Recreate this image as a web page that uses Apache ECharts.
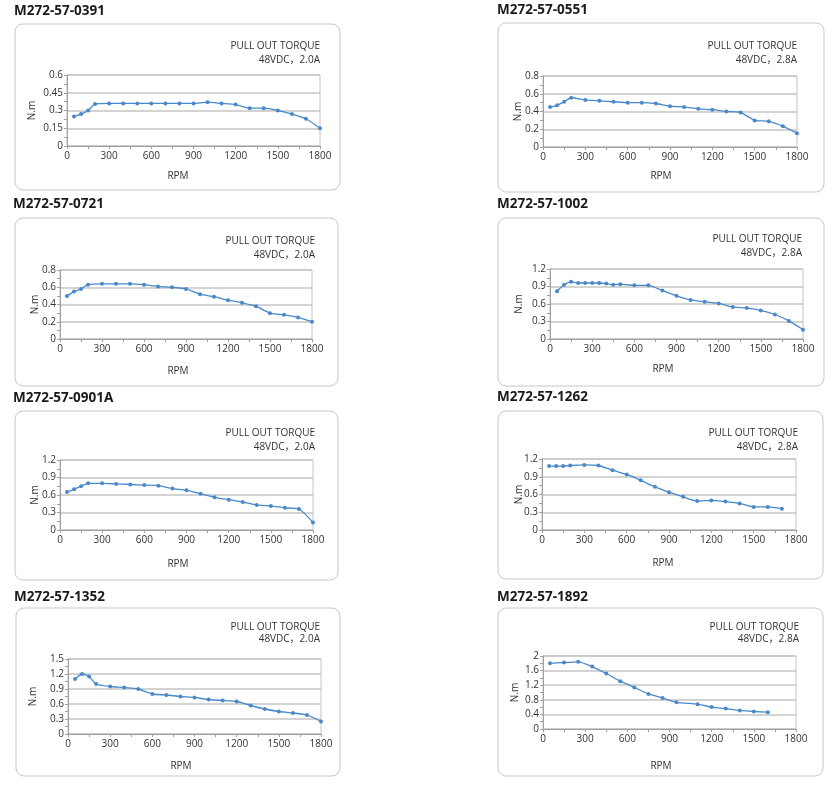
<!DOCTYPE html>
<html>
<head>
<meta charset="utf-8">
<script src="https://cdn.jsdelivr.net/npm/echarts@6/dist/echarts.min.js"></script>
<style>
  html, body { margin: 0; padding: 0; background: #fff; }
  #chart { width: 838px; height: 795px; }
</style>
</head>
<body>
<div id="chart"></div>
<script>
// speed points (RPM)
const rpmStd = [50, 100, 150, 200, 300, 400, 500, 600, 700, 800, 900, 1000, 1100, 1200, 1300, 1400, 1500, 1600, 1700, 1800]
const rpm1002 = [50, 100, 150, 200, 250, 300, 350, 400, 450, 500, 600, 700, 800, 900, 1000, 1100, 1200, 1300, 1400, 1500, 1600, 1700, 1800]
const rpm1262 = [50, 100, 150, 200, 300, 400, 500, 600, 700, 800, 900, 1000, 1100, 1200, 1300, 1400, 1500, 1600, 1700]
const rpm1892 = [50, 150, 250, 350, 450, 550, 650, 750, 850, 950, 1100, 1200, 1300, 1400, 1500, 1600]

// pull out torque (N.m)
const torque0391 = [0.25, 0.27, 0.30, 0.355, 0.36, 0.36, 0.36, 0.36, 0.36, 0.36, 0.36, 0.37, 0.36, 0.35, 0.32, 0.32, 0.30, 0.27, 0.23, 0.15]
const torque0551 = [0.45, 0.47, 0.51, 0.555, 0.53, 0.52, 0.51, 0.50, 0.50, 0.49, 0.46, 0.45, 0.43, 0.42, 0.40, 0.39, 0.30, 0.29, 0.235, 0.155]
const torque0721 = [0.50, 0.55, 0.58, 0.63, 0.64, 0.64, 0.64, 0.63, 0.61, 0.60, 0.58, 0.52, 0.49, 0.45, 0.42, 0.38, 0.30, 0.28, 0.25, 0.20]
const torque1002 = [0.82, 0.93, 0.98, 0.96, 0.96, 0.96, 0.96, 0.95, 0.93, 0.94, 0.92, 0.92, 0.83, 0.74, 0.67, 0.64, 0.61, 0.55, 0.53, 0.49, 0.42, 0.31, 0.16]
const torque0901A = [0.65, 0.70, 0.75, 0.80, 0.80, 0.79, 0.78, 0.77, 0.76, 0.71, 0.68, 0.62, 0.56, 0.52, 0.48, 0.43, 0.41, 0.38, 0.36, 0.13]
const torque1262 = [1.08, 1.08, 1.08, 1.09, 1.10, 1.09, 1.01, 0.94, 0.84, 0.73, 0.64, 0.56, 0.49, 0.50, 0.48, 0.45, 0.39, 0.39, 0.36]
const torque1352 = [1.10, 1.20, 1.15, 1.00, 0.95, 0.93, 0.90, 0.80, 0.78, 0.75, 0.73, 0.69, 0.67, 0.65, 0.57, 0.50, 0.45, 0.42, 0.38, 0.25]
const torque1892 = [1.80, 1.82, 1.84, 1.71, 1.52, 1.31, 1.14, 0.96, 0.85, 0.73, 0.68, 0.60, 0.56, 0.51, 0.48, 0.46]

// tick labels
const xTicks = [0, 300, 600, 900, 1200, 1500, 1800]
const yTicks0391 = [0, 0.15, 0.3, 0.45, 0.6]
const yTicks08 = [0, 0.2, 0.4, 0.6, 0.8]
const yTicks12 = [0, 0.3, 0.6, 0.9, 1.2]
const yTicks15 = [0, 0.3, 0.6, 0.9, 1.2, 1.5]
const yTicks20 = [0, 0.4, 0.8, 1.2, 1.6, 2]

// texts
const models = ['M272-57-0391', 'M272-57-0551', 'M272-57-0721', 'M272-57-1002', 'M272-57-0901A', 'M272-57-1262', 'M272-57-1352', 'M272-57-1892']
const ratings = ['48VDC，2.0A', '48VDC，2.8A', '48VDC，2.0A', '48VDC，2.8A', '48VDC，2.0A', '48VDC，2.8A', '48VDC，2.0A', '48VDC，2.8A']
const chartTitle = 'PULL OUT TORQUE'
const xName = 'RPM'
const yName = 'N.m'

const panels = [
  { rpm: rpmStd, torque: torque0391, yTicks: yTicks0391 },
  { rpm: rpmStd, torque: torque0551, yTicks: yTicks08 },
  { rpm: rpmStd, torque: torque0721, yTicks: yTicks08 },
  { rpm: rpm1002, torque: torque1002, yTicks: yTicks12 },
  { rpm: rpmStd, torque: torque0901A, yTicks: yTicks12 },
  { rpm: rpm1262, torque: torque1262, yTicks: yTicks12 },
  { rpm: rpmStd, torque: torque1352, yTicks: yTicks15 },
  { rpm: rpm1892, torque: torque1892, yTicks: yTicks20 }
]

// layout: box, plot grid, text anchors
const layout = [
  { box: [15, 24, 325, 166], title: [14, 11], grid: [67, 75, 253, 71], sub: [320, 46, 60], ny: 32, rpm: [178, 176] },
  { box: [498, 23, 326, 169], title: [497, 10], grid: [543, 76, 254, 71], sub: [797, 46, 60], ny: 518, rpm: [661, 176] },
  { box: [15, 218, 323, 168], title: [13, 204], grid: [60, 270, 252, 69], sub: [315, 241, 255], ny: 35, rpm: [178, 371] },
  { box: [498, 218, 326, 168], title: [497, 204], grid: [550, 269, 253, 70], sub: [802, 239, 253], ny: 519, rpm: [663, 369] },
  { box: [15, 411, 323, 169], title: [13, 398], grid: [60, 460, 253, 70], sub: [315, 433, 447], ny: 35, rpm: [178, 564] },
  { box: [498, 411, 325, 168], title: [497, 397], grid: [542, 459, 254, 71], sub: [798, 433, 447], ny: 519, rpm: [663, 563] },
  { box: [16, 608, 324, 168], title: [14, 597], grid: [68, 659, 253, 75], sub: [320, 627, 639], ny: 33, rpm: [181, 766] },
  { box: [498, 608, 325, 168], title: [497, 597], grid: [543, 656, 253, 73], sub: [799, 627, 639], ny: 515, rpm: [661, 766] }
]

const FONT = '"Open Sans", "Noto Sans CJK SC", sans-serif'
const LINE = '#4a89c9'
const AXIS = '#a0a0a0'
const TXT = '#333333'

const chart = echarts.init(document.getElementById('chart'), null, { renderer: 'canvas' })

const grid = []
const xAxis = []
const yAxis = []
const series = []
const graphic = []

panels.forEach((p, i) => {
  const l = layout[i]
  grid.push({
    left: l.grid[0], top: l.grid[1], width: l.grid[2], height: l.grid[3],
    show: true, borderColor: '#c4c4c4', borderWidth: 1, containLabel: false
  })
  xAxis.push({
    type: 'value', gridIndex: i,
    min: xTicks[0], max: xTicks[xTicks.length - 1], interval: xTicks[1] - xTicks[0],
    axisLine: { show: true, lineStyle: { color: AXIS, width: 1 } },
    axisTick: { show: true, length: 3, lineStyle: { color: AXIS } },
    minorTick: { show: true, splitNumber: 2, length: 3, lineStyle: { color: AXIS } },
    splitLine: { show: false },
    axisLabel: { color: TXT, fontSize: 10, fontFamily: FONT, margin: 5, formatter: v => String(v) }
  })
  const yt = p.yTicks
  yAxis.push({
    type: 'value', gridIndex: i,
    min: 0, max: yt[yt.length - 1], interval: yt[1] - yt[0],
    axisLine: { show: true, lineStyle: { color: AXIS, width: 1 } },
    axisTick: { show: true, length: 3, lineStyle: { color: AXIS } },
    minorTick: { show: true, splitNumber: 2, length: 3, lineStyle: { color: AXIS } },
    splitLine: { show: true, lineStyle: { color: '#c4c4c4', width: 1.5 } },
    axisLabel: { color: TXT, fontSize: 10, fontFamily: FONT, margin: 4 }
  })
  series.push({
    type: 'line', xAxisIndex: i, yAxisIndex: i,
    data: p.rpm.map((r, k) => [r, p.torque[k]]),
    symbol: 'circle', symbolSize: 4, smooth: 0.2,
    itemStyle: { color: LINE },
    lineStyle: { color: LINE, width: 1.3 },
    silent: true, animation: false
  })

  graphic.push({
    type: 'rect', silent: true,
    shape: { x: l.box[0], y: l.box[1], width: l.box[2], height: l.box[3], r: 8 },
    style: { fill: 'none', stroke: '#c8c8c8', lineWidth: 1 }
  })
  graphic.push({
    type: 'text', silent: true, x: l.title[0], y: l.title[1],
    style: { text: models[i], font: 'bold 13.5px ' + FONT, fill: '#1a1a1a', textAlign: 'left', textVerticalAlign: 'middle' }
  })
  graphic.push({
    type: 'text', silent: true, x: l.sub[0], y: l.sub[1],
    style: { text: chartTitle, font: '10px ' + FONT, fill: TXT, textAlign: 'right', textVerticalAlign: 'middle' }
  })
  graphic.push({
    type: 'text', silent: true, x: l.sub[0], y: l.sub[2],
    style: { text: ratings[i], font: '10px ' + FONT, fill: TXT, textAlign: 'right', textVerticalAlign: 'middle' }
  })
  graphic.push({
    type: 'text', silent: true, x: l.ny, y: l.grid[1] + l.grid[3] / 2, rotation: Math.PI / 2,
    style: { text: yName, font: '10px ' + FONT, fill: TXT, textAlign: 'center', textVerticalAlign: 'middle' }
  })
  graphic.push({
    type: 'text', silent: true, x: l.rpm[0], y: l.rpm[1],
    style: { text: xName, font: '10px ' + FONT, fill: TXT, textAlign: 'center', textVerticalAlign: 'middle' }
  })
})

chart.setOption({
  backgroundColor: '#ffffff',
  animation: false,
  grid,
  xAxis,
  yAxis,
  series,
  graphic
})
</script>
</body>
</html>
